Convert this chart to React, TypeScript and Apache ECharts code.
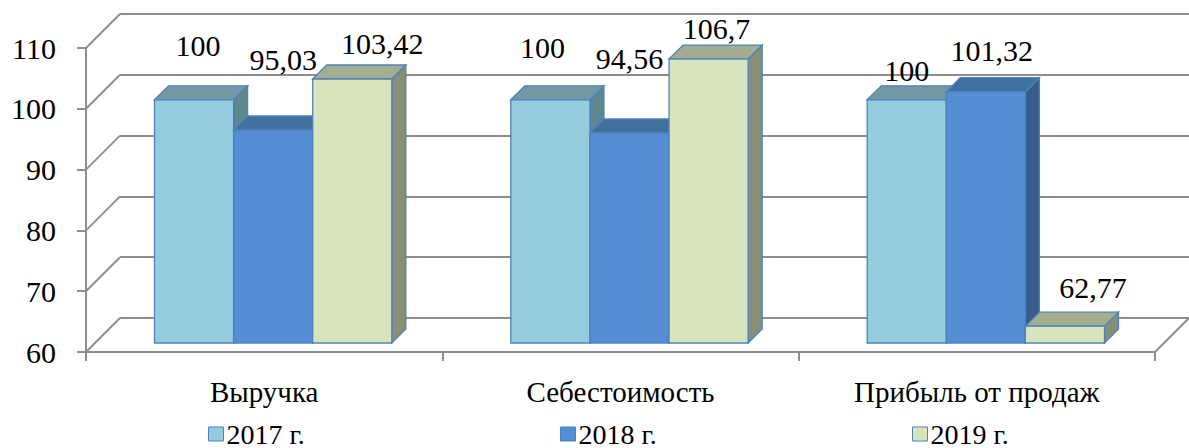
import React, { useEffect, useRef } from "react";
import * as echarts from "echarts";

const categories = ["Выручка", "Себестоимость", "Прибыль от продаж"];
const years = ["2017 г.", "2018 г.", "2019 г."];
const v2017 = [100, 100, 100];
const v2018 = [95.03, 94.56, 101.32];
const v2019 = [103.42, 106.7, 62.77];
const yTicks = [60, 70, 80, 90, 100, 110];

// label nudges (layout only): [dx, dy] from the top-back centre of each box
const nudge2017 = [[-10, -40], [-22, -38], [-14, -15]];
const nudge2018 = [[-4, -57], [-14, -60], [-8, -27]];
const nudge2019 = [[16, -22], [-6, -17], [14, -25]];

const palette = [
  { front: "#93CDDD", top: "#7099A4", side: "#5F8790" },
  { front: "#558ED5", top: "#41709F", side: "#385D8A" },
  { front: "#D7E4BD", top: "#A3AD90", side: "#878F77" },
];

const FONT = "Liberation Serif";
const EDGE = "#4F81BD";
const GRID = "#8E8E8E";
const WALL = 34; // depth of the back wall
const D1 = 9; // depth of the bar front plane
const DZ = 14; // depth of a box

const fmt = (v: number) => String(v).replace(".", ",");

function barSeries(si: number, values: number[], nudges: number[][]) {
  const col = palette[si];
  return {
    type: "custom",
    name: years[si],
    xAxisIndex: 0,
    yAxisIndex: 0,
    clip: false,
    itemStyle: { color: col.front, borderColor: EDGE, borderWidth: 1 },
    encode: { x: 0, y: 1 },
    data: values.map((v, i) => [i, v]),
    renderItem: (params: any, api: any) => {
      const idx = api.value(0);
      const val = api.value(1);
      const base = api.coord([idx, 60]);
      const topP = api.coord([idx, val]);
      const cw = api.size([1, 0])[0];
      const bw = cw * 0.222;
      const x0 = base[0] - 1.5 * bw + si * bw + D1;
      const x1 = x0 + bw;
      const yb = base[1] - D1;
      const yt = topP[1] - D1;
      const line = { stroke: EDGE, lineWidth: 1.3 };
      const nd = nudges[params.dataIndex];
      return {
        type: "group",
        children: [
          {
            type: "polygon",
            shape: { points: [[x1, yt], [x1 + DZ, yt - DZ], [x1 + DZ, yb - DZ], [x1, yb]] },
            style: { fill: col.side, ...line },
          },
          {
            type: "polygon",
            shape: { points: [[x0, yt], [x0 + DZ, yt - DZ], [x1 + DZ, yt - DZ], [x1, yt]] },
            style: { fill: col.top, ...line },
          },
          {
            type: "rect",
            shape: { x: x0, y: yt, width: bw, height: yb - yt },
            style: { fill: col.front, ...line },
          },
          {
            type: "text",
            x: x0 + bw / 2 + DZ + nd[0],
            y: yt - DZ + nd[1],
            style: {
              text: fmt(val),
              fill: "#000",
              fontSize: 30,
              fontFamily: FONT,
              align: "center",
              verticalAlign: "middle",
            },
          },
        ],
      };
    },
  };
}

export default function App() {
  const ref = useRef<HTMLDivElement>(null);
  useEffect(() => {
    if (!ref.current) return;
    const chart = echarts.init(ref.current, null, { renderer: "svg" });
    const legendLefts = [208, 560, 912];
    chart.setOption({
      animation: false,
      backgroundColor: "#fff",
      textStyle: { fontFamily: FONT },
      grid: [
        { left: 86, right: 34, top: 48, bottom: 96, outerBoundsMode: "none", containLabel: false },
        {
          left: 86 + WALL,
          right: 0,
          top: 48 - WALL,
          bottom: 96 + WALL,
          outerBoundsMode: "none",
          containLabel: false,
        },
      ],
      legend: years.map((y, i) => ({
        data: [y],
        left: legendLefts[i],
        top: 420,
        padding: 0,
        icon: "rect",
        itemWidth: 15,
        itemHeight: 14,
        itemStyle: { borderColor: EDGE, borderWidth: 1 },
        textStyle: { fontSize: 28, fontFamily: FONT, color: "#000", padding: [0, 0, 0, -2] },
        selectedMode: false,
      })),
      xAxis: [
        {
          type: "category",
          gridIndex: 0,
          data: categories,
          boundaryGap: true,
          axisLine: { lineStyle: { color: GRID, width: 2 } },
          axisTick: { show: true, length: 9, lineStyle: { color: GRID, width: 2 } },
          axisLabel: { fontSize: 29, fontFamily: FONT, color: "#000", margin: 25 },
          splitLine: { show: false },
        },
        { type: "value", gridIndex: 1, show: false, min: 0, max: 1 },
      ],
      yAxis: [
        {
          type: "value",
          gridIndex: 0,
          min: 60,
          max: 110,
          interval: 10,
          axisLine: { show: true, lineStyle: { color: GRID, width: 2 } },
          axisTick: { show: true, length: 9, lineStyle: { color: GRID, width: 2 } },
          axisLabel: { fontSize: 30, fontFamily: FONT, color: "#000", margin: 30 },
          splitLine: { show: false },
        },
        {
          type: "value",
          gridIndex: 1,
          min: 60,
          max: 110,
          interval: 10,
          axisLine: { show: false },
          axisTick: { show: false },
          axisLabel: { show: false },
          splitLine: { show: true, lineStyle: { color: GRID, width: 2 } },
        },
      ],
      series: [
        {
          type: "custom",
          name: "walls",
          xAxisIndex: 0,
          yAxisIndex: 0,
          clip: false,
          silent: true,
          encode: { x: 0, y: 1 },
          data: yTicks.map((t) => [0, t]),
          renderItem: (params: any, api: any) => {
            const cs = params.coordSys;
            const p = api.coord([0, api.value(1)]);
            const y = p[1];
            const children: any[] = [
              {
                type: "line",
                shape: { x1: cs.x, y1: y, x2: cs.x + WALL, y2: y - WALL },
                style: { stroke: GRID, lineWidth: 2 },
              },
            ];
            if (api.value(1) === yTicks[0]) {
              const xr = cs.x + cs.width;
              children.push({
                type: "line",
                shape: { x1: xr, y1: y, x2: xr + WALL, y2: y - WALL },
                style: { stroke: GRID, lineWidth: 2 },
              });
            }
            return { type: "group", children };
          },
        },
        barSeries(0, v2017, nudge2017),
        barSeries(1, v2018, nudge2018),
        barSeries(2, v2019, nudge2019),
      ],
    });
    return () => chart.dispose();
  }, []);
  return (
    <div
      ref={ref}
      style={{ position: "absolute", left: 0, top: 0, width: 1189, height: 448 }}
    />
  );
}
